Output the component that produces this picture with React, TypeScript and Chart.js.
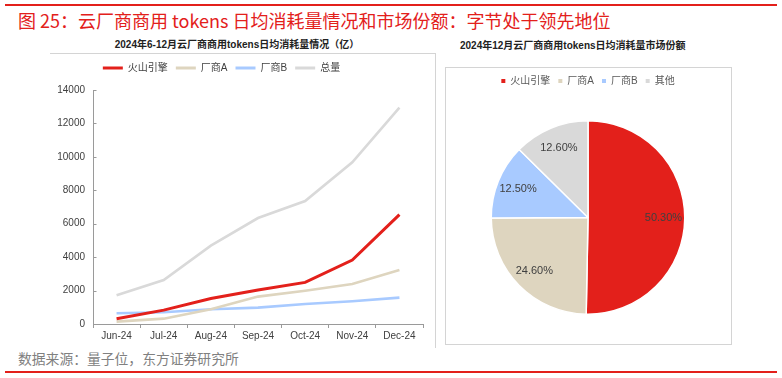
import React, { useEffect, useRef } from "react";
import { Chart, registerables } from "chart.js";

Chart.register(...registerables);

// ---------- data ----------
const months = ["Jun-24", "Jul-24", "Aug-24", "Sep-24", "Oct-24", "Nov-24", "Dec-24"];
const seriesNames = ["火山引擎", "厂商A", "厂商B", "总量"];
const volcano = [320, 830, 1530, 2030, 2490, 3830, 6540];
const vendorA = [140, 320, 880, 1640, 1990, 2390, 3230];
const vendorB = [640, 700, 880, 980, 1200, 1360, 1580];
const total = [1720, 2630, 4690, 6340, 7360, 9670, 12940];
const yTicksMax = 14000;
const yTickStep = 2000;

const shareLabels = ["火山引擎", "厂商A", "厂商B", "其他"];
const shareValues = [50.3, 24.6, 12.5, 12.6];

// ---------- styles ----------
const RED = "#E3201B";
const TAN = "#DED5BF";
const BLUE = "#A8CAFF";
const GRAY = "#D9D9D9";
const AXIS = "#9a9a9a";
const TXT = "#404040";
const FONT = '"Liberation Sans", "Noto Sans CJK SC", sans-serif';
const seriesColors = [RED, TAN, BLUE, GRAY];

const legendSpacer = (extra: number) => ({
  id: "legendSpacer",
  beforeInit(chart: any) {
    const legend = chart.legend;
    if (!legend) return;
    const orig = legend.fit;
    legend.fit = function () {
      orig.call(this);
      this.height += extra;
    };
  },
});

const yInnerTicks = {
  id: "yInnerTicks",
  afterDraw(chart: any) {
    const ys = chart.scales.y;
    const ctx = chart.ctx;
    const x0 = Math.round(chart.chartArea.left) + 0.5;
    ctx.save();
    ctx.strokeStyle = AXIS;
    ctx.lineWidth = 1;
    ys.ticks.forEach((t: any) => {
      const py = Math.round(ys.getPixelForValue(t.value)) + 0.5;
      ctx.beginPath();
      ctx.moveTo(x0, py);
      ctx.lineTo(x0 + 3, py);
      ctx.stroke();
    });
    ctx.restore();
  },
};

const pieLabels = {
  id: "pieLabels",
  afterDatasetsDraw(chart: any) {
    const meta = chart.getDatasetMeta(0);
    const ctx = chart.ctx;
    const vals = chart.data.datasets[0].data;
    ctx.save();
    ctx.font = `11px ${FONT}`;
    ctx.fillStyle = TXT;
    ctx.textAlign = "center";
    ctx.textBaseline = "middle";
    meta.data.forEach((arc: any, i: number) => {
      const p = arc.getProps(["x", "y", "startAngle", "endAngle", "outerRadius"], true);
      const mid = (p.startAngle + p.endAngle) / 2;
      const r = p.outerRadius * 0.78;
      ctx.fillText(vals[i].toFixed(2) + "%", p.x + Math.cos(mid) * r, p.y + Math.sin(mid) * r);
    });
    ctx.restore();
  },
};

function LineChart() {
  const ref = useRef<HTMLCanvasElement>(null);
  useEffect(() => {
    const data = [volcano, vendorA, vendorB, total];
    const chart = new Chart(ref.current!, {
      type: "line",
      data: {
        labels: months,
        datasets: seriesNames.map((n, i) => ({
          label: n,
          data: data[i],
          borderColor: seriesColors[i],
          backgroundColor: seriesColors[i],
          borderWidth: i === 0 ? 3 : 2.6,
          pointRadius: 0,
          tension: 0,
        })),
      },
      options: {
        animation: false,
        responsive: false,
        maintainAspectRatio: false,
        layout: { padding: { left: 0, right: 45, top: 0, bottom: 1 } },
        plugins: {
          tooltip: { enabled: false },
          legend: {
            position: "top",
            labels: {
              font: { family: FONT, size: 10 },
              color: TXT,
              boxWidth: 20,
              boxHeight: 3,
              padding: 8,
              generateLabels: (chart: any) =>
                chart.data.datasets.map((d: any, i: number) => ({
                  text: d.label,
                  fillStyle: d.borderColor,
                  strokeStyle: d.borderColor,
                  lineWidth: 0,
                  fontColor: TXT,
                  hidden: false,
                  datasetIndex: i,
                })),
            },
          },
        },
        scales: {
          x: {
            offset: true,
            grid: {
              display: true,
              offset: true,
              drawOnChartArea: false,
              drawTicks: true,
              tickLength: 4,
              color: AXIS,
            },
            border: { display: true, color: AXIS },
            ticks: {
              font: { family: FONT, size: 10 },
              color: TXT,
              padding: 2,
              maxRotation: 0,
              autoSkip: false,
            },
          },
          y: {
            min: 0,
            max: yTicksMax,
            grid: { display: false, drawTicks: false },
            border: { display: true, color: AXIS },
            ticks: {
              stepSize: yTickStep,
              font: { family: FONT, size: 10 },
              color: TXT,
              padding: 8,
              callback: (v: any) => String(v),
            },
            afterFit: (s: any) => {
              s.width = 73;
            },
          },
        },
      },
      plugins: [legendSpacer(7), yInnerTicks],
    } as any);
    return () => chart.destroy();
  }, []);
  return (
    <canvas
      ref={ref}
      width={448}
      height={290}
      style={{ position: "absolute", left: 20, top: 55, width: 448, height: 290 }}
    />
  );
}

function PieChart() {
  const ref = useRef<HTMLCanvasElement>(null);
  useEffect(() => {
    const chart = new Chart(ref.current!, {
      type: "pie",
      data: {
        labels: shareLabels,
        datasets: [
          {
            data: shareValues,
            backgroundColor: seriesColors,
            borderColor: "#ffffff",
            borderWidth: 1.5,
          },
        ],
      },
      options: {
        animation: false,
        responsive: false,
        maintainAspectRatio: false,
        layout: { padding: { left: 0, right: 0, top: 0, bottom: 28 } },
        plugins: {
          tooltip: { enabled: false },
          legend: {
            position: "top",
            labels: {
              font: { family: FONT, size: 10 },
              color: "#595959",
              boxWidth: 4,
              boxHeight: 4,
              padding: 8,
              generateLabels: (chart: any) => {
                const ds = chart.data.datasets[0];
                return chart.data.labels.map((l: string, i: number) => ({
                  text: l,
                  fillStyle: ds.backgroundColor[i],
                  strokeStyle: ds.backgroundColor[i],
                  lineWidth: 0,
                  fontColor: "#595959",
                  hidden: false,
                  index: i,
                }));
              },
            },
          },
        },
      },
      plugins: [legendSpacer(24), pieLabels],
    } as any);
    return () => chart.destroy();
  }, []);
  return (
    <canvas
      ref={ref}
      width={284}
      height={275}
      style={{ position: "absolute", left: 446, top: 68, width: 284, height: 275 }}
    />
  );
}

export default function App() {
  const cjk = '"Noto Sans CJK SC", "Liberation Sans", sans-serif';
  return (
    <div
      style={{
        position: "absolute",
        left: 0,
        top: 0,
        width: 782,
        height: 378,
        background: "#fff",
        overflow: "hidden",
        fontFamily: cjk,
      }}
    >
      <div style={{ position: "absolute", left: 5, top: 4, width: 772, height: 2, background: RED }} />
      <div
        style={{
          position: "absolute",
          left: 18,
          top: 8,
          fontSize: 18,
          lineHeight: "24px",
          color: RED,
          whiteSpace: "nowrap",
        }}
      >
        图 25：云厂商商用 tokens 日均消耗量情况和市场份额：字节处于领先地位
      </div>

      {/* left panel frame */}
      <div style={{ position: "absolute", left: 50, top: 53, width: 385, height: 1, background: "#d4d4d4" }} />
      <div style={{ position: "absolute", left: 435, top: 53, width: 1, height: 295, background: "#d4d4d4" }} />
      <div
        style={{
          position: "absolute",
          left: 0,
          width: 474,
          top: 38,
          textAlign: "center",
          fontSize: 10,
          fontWeight: 700,
          lineHeight: "14px",
          color: "#222",
          whiteSpace: "nowrap",
          fontFamily: FONT,
        }}
      >
        2024年6-12月云厂商商用tokens日均消耗量情况（亿）
      </div>

      {/* right panel frame */}
      <div
        style={{
          position: "absolute",
          left: 445,
          top: 67,
          width: 285,
          height: 276,
          border: "1px solid #d4d4d4",
          boxSizing: "content-box",
        }}
      />
      <div
        style={{
          position: "absolute",
          left: 460,
          top: 39,
          fontSize: 10,
          fontWeight: 700,
          lineHeight: "14px",
          color: "#222",
          whiteSpace: "nowrap",
          fontFamily: FONT,
        }}
      >
        2024年12月云厂商商用tokens日均消耗量市场份额
      </div>

      <LineChart />
      <PieChart />

      <div
        style={{
          position: "absolute",
          left: 18,
          top: 349,
          fontSize: 13.8,
          lineHeight: "18px",
          color: "#808080",
          whiteSpace: "nowrap",
        }}
      >
        数据来源：量子位，东方证券研究所
      </div>
      <div style={{ position: "absolute", left: 5, top: 371, width: 772, height: 2, background: RED }} />
    </div>
  );
}
